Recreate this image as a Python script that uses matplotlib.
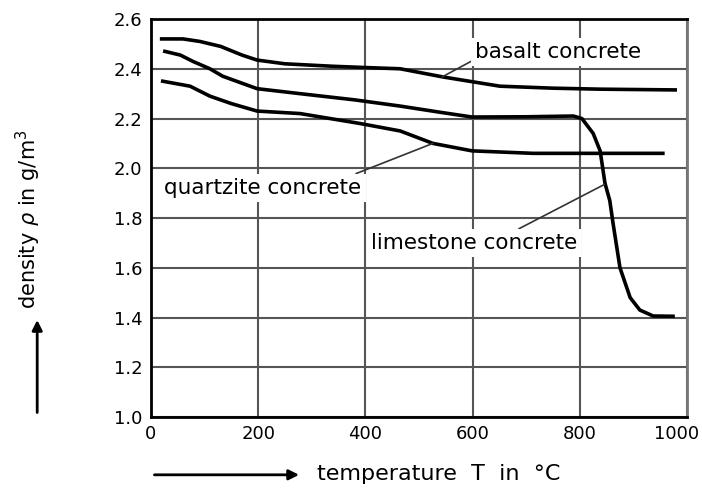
import numpy as np
import matplotlib.pyplot as plt
from matplotlib.transforms import offset_copy

# curve data (T in degC, density)
T_basalt = [20, 60, 91, 130, 170, 198, 250, 340, 400, 465, 545, 651, 750, 838, 978]
d_basalt = [2.52, 2.52, 2.51, 2.49, 2.455, 2.435, 2.42, 2.41, 2.405, 2.40, 2.367, 2.33, 2.322, 2.318, 2.315]

T_lime = [26, 55, 78, 110, 134, 198, 278, 380, 465, 540, 599, 700, 788, 804, 825, 838, 847,
          856, 862, 875, 894, 912, 937, 974]
d_lime = [2.47, 2.455, 2.43, 2.40, 2.37, 2.32, 2.30, 2.275, 2.25, 2.225, 2.206, 2.207, 2.21, 2.20,
          2.14, 2.07, 1.94, 1.87, 1.78, 1.60, 1.48, 1.43, 1.406, 1.405]

T_quartz = [22, 73, 110, 150, 198, 278, 390, 465, 526, 599, 713, 850, 955]
d_quartz = [2.35, 2.33, 2.29, 2.26, 2.23, 2.22, 2.18, 2.15, 2.10, 2.07, 2.06, 2.06, 2.06]

x_ticks = [0, 200, 400, 600, 800, 1000]
x_labels = ['0', '200', '400', '600', '800', '1000']
y_ticks = [1.0, 1.2, 1.4, 1.6, 1.8, 2.0, 2.2, 2.4, 2.6]
y_labels = ['1.0', '1.2', '1.4', '1.6', '1.8', '2.0', '2.2', '2.4', '2.6']

fig = plt.figure(figsize=(7.02, 4.88), dpi=100)
ax = fig.add_axes([0.215, 0.1455, 0.7636, 0.8155])

ax.set_xlim(0, 1000)
ax.set_ylim(1.0, 2.6)
ax.set_xticks(x_ticks)
ax.set_xticklabels(x_labels)
ax.set_yticks(y_ticks)
ax.set_yticklabels(y_labels)
ax.tick_params(length=0, labelsize=13, pad=6)
# last x label sits a bit left so it stays inside the picture
last = ax.get_xticklabels()[-1]
last.set_transform(offset_copy(last.get_transform(), fig=fig, x=-10, units='dots'))
ax.grid(True, color='#555555', linewidth=1.5)
ax.set_axisbelow(True)
for s in ['left', 'bottom', 'top']:
    ax.spines[s].set_linewidth(2)
    ax.spines[s].set_color('black')
ax.spines['right'].set_linewidth(2)
ax.spines['right'].set_color('#777777')

for T, d in [(T_basalt, d_basalt), (T_lime, d_lime), (T_quartz, d_quartz)]:
    ax.plot(T, d, color='black', linewidth=2.6, zorder=3)

box = dict(facecolor='white', edgecolor='none', pad=3)
lead = dict(arrowstyle='-', color='#333333', lw=1.2, shrinkA=0, shrinkB=0)
ax.annotate('basalt concrete', xy=(543, 2.367), xytext=(605, 2.467),
            fontsize=15.5, va='center', ha='left', bbox=box,
            arrowprops=dict(lead, relpos=(0.0, 0.15)))
ax.annotate('quartzite concrete', xy=(526, 2.10), xytext=(25, 1.922),
            fontsize=15.5, va='center', ha='left', bbox=box,
            arrowprops=dict(lead, relpos=(0.92, 1.0)))
ax.annotate('limestone concrete', xy=(846, 1.935), xytext=(410, 1.70),
            fontsize=15.5, va='center', ha='left', bbox=box,
            arrowprops=dict(lead, relpos=(0.68, 1.0)))

# axis labels with arrows
fig.text(0.040, 0.551, r'density $\rho$ in g/m$^3$', rotation=90, fontsize=15,
         ha='center', va='center')
fig.add_artist(plt.Annotation('', xy=(0.053, 0.35), xytext=(0.053, 0.149),
                              xycoords='figure fraction',
                              arrowprops=dict(arrowstyle='-|>', color='black',
                                              lw=2, mutation_scale=15)))
fig.text(0.451, 0.029, 'temperature  T  in  \u00b0C', fontsize=16,
         ha='left', va='center')
fig.add_artist(plt.Annotation('', xy=(0.43, 0.027), xytext=(0.216, 0.027),
                              xycoords='figure fraction',
                              arrowprops=dict(arrowstyle='-|>', color='black',
                                              lw=2, mutation_scale=15)))

fig.savefig('out.png', dpi=100)
